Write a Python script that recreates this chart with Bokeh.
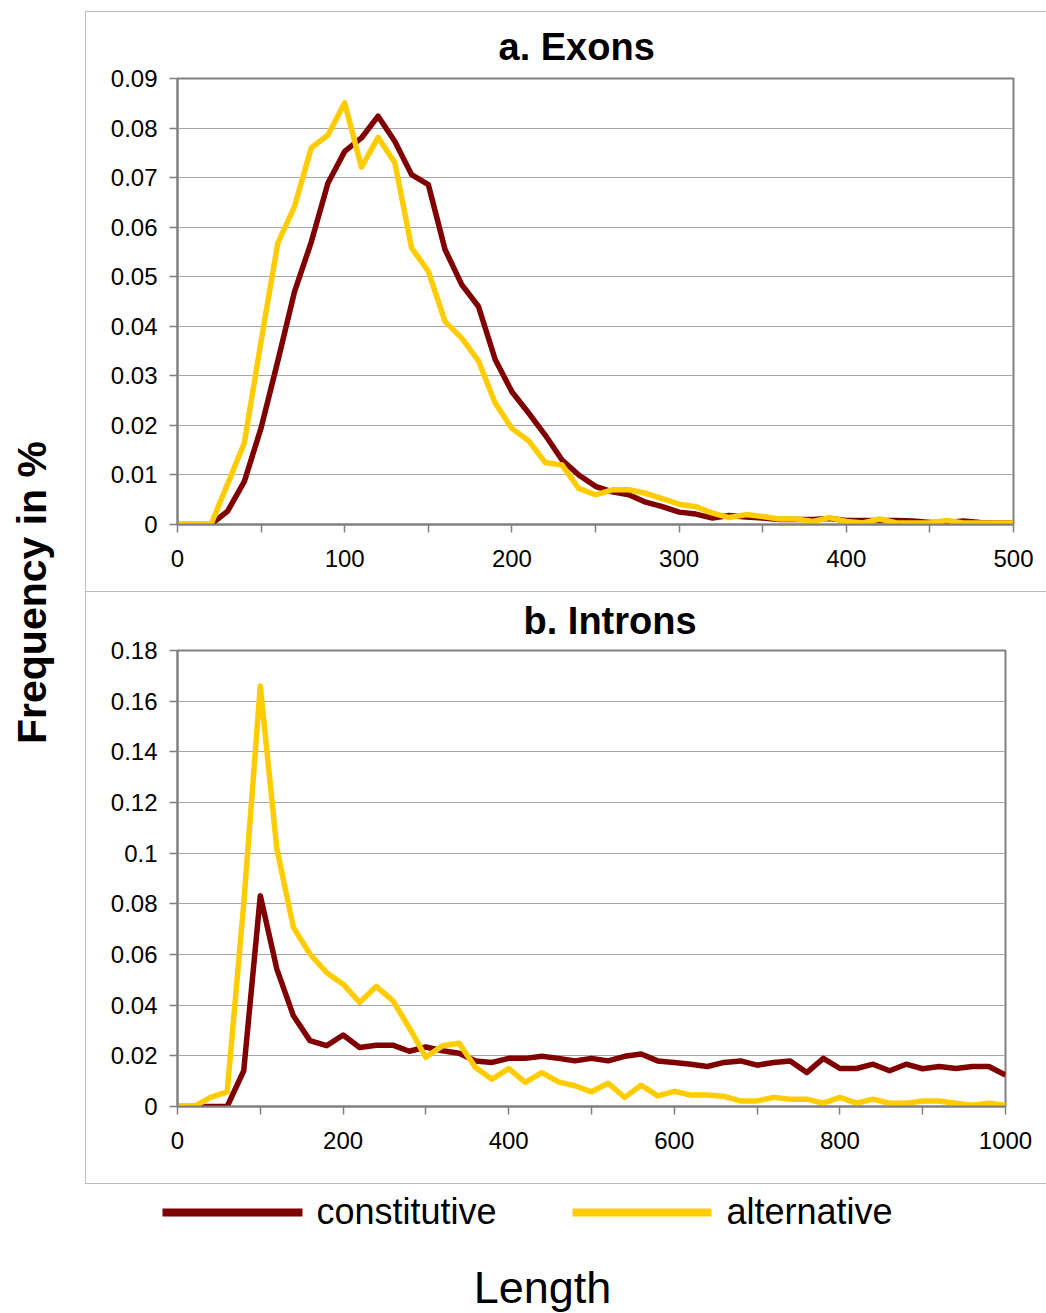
from math import pi
from bokeh.plotting import figure
from bokeh.layouts import column, row, Spacer
from bokeh.models import Range1d, FixedTicker, CustomJSTickFormatter, ColumnDataSource
from bokeh.core.properties import value
from bokeh.embed import file_html
from bokeh.resources import INLINE

FONT = "Liberation Sans"
MAROON = "#800000"
GOLD = "#FFCC00"

# ---------------- data ----------------
exon_length = [0, 10, 20, 30, 40, 50, 60, 70, 80, 90, 100, 110, 120, 130, 140, 150, 160, 170, 180, 190,
               200, 210, 220, 230, 240, 250, 260, 270, 280, 290, 300, 310, 320, 330, 340, 350, 360, 370,
               380, 390, 400, 410, 420, 430, 440, 450, 460, 470, 480, 490, 500]
exon_constitutive = [0, 0, 0, 0.0027, 0.0087, 0.0195, 0.033, 0.047, 0.057, 0.0689, 0.0753, 0.078, 0.0824,
                     0.0773, 0.0706, 0.0686, 0.0555, 0.0484, 0.044, 0.0333, 0.0268, 0.0225, 0.018, 0.013,
                     0.010, 0.0077, 0.0066, 0.006, 0.0045, 0.0036, 0.0025, 0.0021, 0.0013, 0.0018, 0.0015,
                     0.0013, 0.0010, 0.0010, 0.0010, 0.0012, 0.0008, 0.0008, 0.0008, 0.0008, 0.0007, 0.0004,
                     0.0004, 0.0007, 0.0004, 0.0003, 0.0003]
exon_alternative = [0, 0, 0, 0.0082, 0.0165, 0.037, 0.0568, 0.0642, 0.076, 0.0786, 0.0851, 0.0721, 0.0781,
                    0.073, 0.0558, 0.0511, 0.041, 0.0376, 0.033, 0.0245, 0.0194, 0.0169, 0.0125, 0.012,
                    0.0073, 0.006, 0.007, 0.007, 0.0063, 0.0052, 0.0041, 0.0036, 0.0023, 0.0014, 0.002,
                    0.0016, 0.0011, 0.0011, 0.0006, 0.0014, 0.0006, 0.0003, 0.0011, 0.0003, 0.0003, 0.0003,
                    0.0008, 0.0003, 0.0003, 0.0003, 0.0003]

intron_length = [0, 20, 40, 60, 80, 100, 120, 140, 160, 180, 200, 220, 240, 260, 280, 300, 320, 340, 360,
                 380, 400, 420, 440, 460, 480, 500, 520, 540, 560, 580, 600, 620, 640, 660, 680, 700, 720,
                 740, 760, 780, 800, 820, 840, 860, 880, 900, 920, 940, 960, 980, 1000]
intron_constitutive = [0, 0, 0, 0, 0.0141, 0.0832, 0.0542, 0.0358, 0.026, 0.024, 0.0282, 0.0233, 0.0242,
                       0.0242, 0.0218, 0.0235, 0.022, 0.021, 0.018, 0.0174, 0.019, 0.019, 0.0198, 0.019,
                       0.018, 0.019, 0.018, 0.0198, 0.0207, 0.018, 0.0174, 0.0167, 0.0158, 0.0174, 0.018,
                       0.0163, 0.0174, 0.018, 0.0134, 0.019, 0.015, 0.015, 0.0167, 0.0141, 0.0167, 0.0149,
                       0.0158, 0.015, 0.0158, 0.0158, 0.0124]
intron_alternative = [0, 0, 0.0036, 0.0058, 0.08, 0.166, 0.1017, 0.0707, 0.0602, 0.0529, 0.0483, 0.0411,
                      0.0474, 0.0418, 0.031, 0.0194, 0.024, 0.025, 0.0154, 0.0108, 0.015, 0.0095, 0.0134,
                      0.0097, 0.0082, 0.0058, 0.0092, 0.0036, 0.0084, 0.0042, 0.006, 0.0045, 0.0045, 0.004,
                      0.0022, 0.0022, 0.0036, 0.0029, 0.0029, 0.0013, 0.0036, 0.0013, 0.0029, 0.0013,
                      0.0013, 0.0022, 0.0022, 0.0013, 0.0005, 0.0013, 0.0005]

exon_xticks = [0, 100, 200, 300, 400, 500]
exon_xminor = [50, 150, 250, 350, 450]
exon_yticks = [0, 0.01, 0.02, 0.03, 0.04, 0.05, 0.06, 0.07, 0.08, 0.09]
intron_xticks = [0, 200, 400, 600, 800, 1000]
intron_xminor = [100, 300, 500, 700, 900]
intron_yticks = [0, 0.02, 0.04, 0.06, 0.08, 0.1, 0.12, 0.14, 0.16, 0.18]

series_labels = ["constitutive", "alternative"]
titles = ["a. Exons", "b. Introns"]
y_label = "Frequency in %"
x_label = "Length"

FRAME = "#bfbfbf"


def text_panel(w, h, styles):
    """A blank figure used only to hold free-standing text."""
    f = figure(width=w, height=h, x_range=Range1d(0, w), y_range=Range1d(0, h),
               x_axis_location=None, y_axis_location=None, min_border=0,
               output_backend="svg", toolbar_location=None, outline_line_color=None,
               background_fill_color="white", border_fill_color="white", styles=styles,
               frame_align=False)
    f.grid.visible = False
    return f


def make_chart(title, xs, cons, alt, xticks, xminor, yticks, w, h, mbl, mbr, mbt, mbb,
               title_offset, title_standoff, styles):
    p = figure(width=w, height=h,
               x_range=Range1d(xticks[0], xticks[-1]), y_range=Range1d(yticks[0], yticks[-1]),
               output_backend="svg", toolbar_location=None,
               min_border_left=mbl, min_border_right=mbr, min_border_top=mbt, min_border_bottom=mbb,
               background_fill_color="white", border_fill_color="white", styles=styles,
               frame_align=False)
    p.title.text = title
    p.title.align = "left"
    p.title.vertical_align = "top"
    p.title.offset = title_offset
    p.title.standoff = title_standoff
    p.title.text_font = FONT
    p.title.text_font_size = "38px"
    p.title.text_font_style = "bold"
    p.title.text_color = "black"

    p.outline_line_color = "#808080"
    p.outline_line_width = 2

    p.xgrid.visible = False
    p.ygrid.grid_line_color = "#a6a6a6"
    p.ygrid.grid_line_width = 1
    p.ygrid.ticker = FixedTicker(ticks=yticks)

    p.xaxis.ticker = FixedTicker(ticks=xticks, minor_ticks=xminor)
    p.yaxis.ticker = FixedTicker(ticks=yticks)
    p.yaxis.formatter = CustomJSTickFormatter(code=r"return tick.toFixed(2).replace(/\.?0+$/, '');")
    for ax in (p.xaxis, p.yaxis):
        ax.axis_line_color = "#808080"
        ax.axis_line_width = 2
        ax.major_tick_line_color = "#808080"
        ax.major_tick_line_width = 1.5
        ax.major_tick_out = 8
        ax.major_tick_in = 0
        ax.minor_tick_line_color = "#808080"
        ax.minor_tick_line_width = 1.5
        ax.minor_tick_out = 8
        ax.minor_tick_in = 0
        ax.major_label_text_font = FONT
        ax.major_label_text_font_size = "24px"
        ax.major_label_text_color = "black"
    p.yaxis.minor_tick_line_color = None
    p.xaxis.major_label_standoff = 17
    p.yaxis.major_label_standoff = 12

    src = ColumnDataSource(dict(x=xs, c=cons, a=alt))
    p.line("x", "c", source=src, line_color=MAROON, line_width=5.5, line_join="round")
    p.line("x", "a", source=src, line_color=GOLD, line_width=5.5, line_join="round")
    return p


pa = make_chart(titles[0], exon_length, exon_constitutive, exon_alternative,
                exon_xticks, exon_xminor, exon_yticks,
                961, 580, 91, 34, 66, 68, 321, 18,
                {"border-top": f"1px solid {FRAME}", "border-left": f"1px solid {FRAME}",
                 "box-sizing": "border-box"})
pb = make_chart(titles[1], intron_length, intron_constitutive, intron_alternative,
                intron_xticks, intron_xminor, intron_yticks,
                961, 593, 91, 42, 58, 79, 346, 13,
                {"border-top": f"1px solid {FRAME}", "border-left": f"1px solid {FRAME}",
                 "border-bottom": f"1px solid {FRAME}", "box-sizing": "border-box"})

# ---- left strip with the shared y label ----
strip = text_panel(85, 1184, {})
strip.text(x=[31], y=[592], text=[y_label], angle=pi / 2, text_align="center", text_baseline="middle",
           text_font=value(FONT), text_font_size="41px", text_font_style="bold", text_color="black")

# ---- bottom strip: legend and x label ----
leg = text_panel(1046, 129, {})
leg.segment(x0=[162, 572], y0=[101, 101], x1=[302, 711], y1=[101, 101],
            line_color=[MAROON, GOLD], line_width=8)
leg.text(x=[316, 726], y=[102, 102], text=series_labels, text_align="left", text_baseline="middle",
         text_font=value(FONT), text_font_size="36px", text_color="black")
leg.text(x=[542], y=[26], text=[x_label], text_align="center", text_baseline="middle",
         text_font=value(FONT), text_font_size="45px", text_color="black")

layout = column(row(strip, column(Spacer(width=961, height=11), pa, pb)), leg)

open("out.html", "w").write(file_html(layout, INLINE))
